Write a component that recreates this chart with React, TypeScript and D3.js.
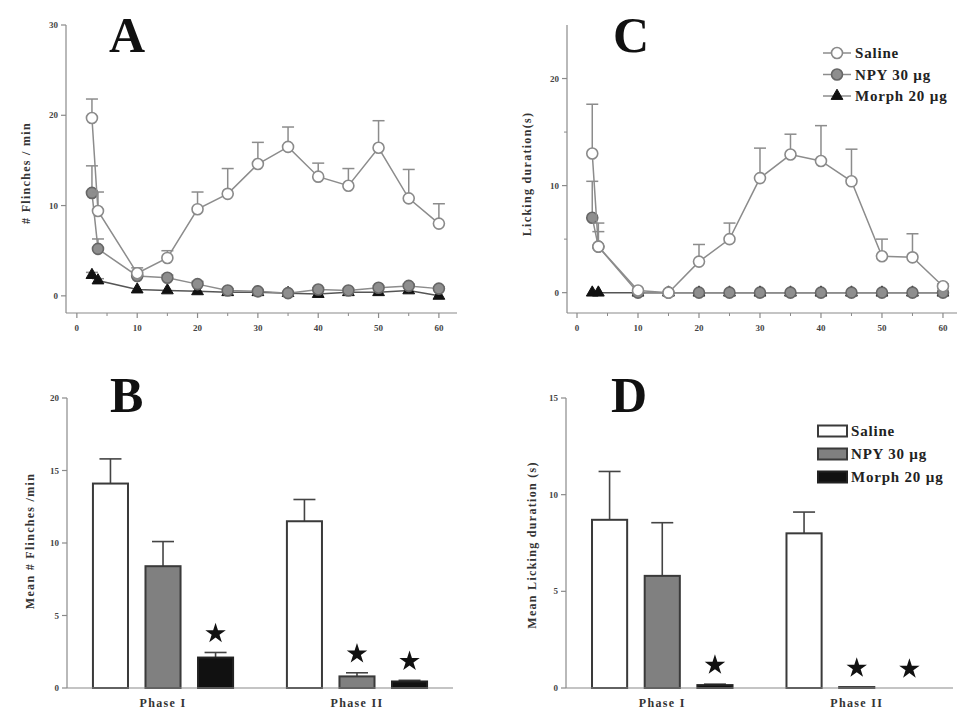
import React from "react";
import * as d3 from "d3";

// ---------- data ----------
const timeMin = [2.5, 3.5, 10, 15, 20, 25, 30, 35, 40, 45, 50, 55, 60];

const flinchSaline = [19.7, 9.4, 2.5, 4.2, 9.6, 11.3, 14.6, 16.5, 13.2, 12.2, 16.4, 10.8, 8.0];
const flinchSalineSem = [2.1, 2.1, 0.6, 0.8, 1.9, 2.8, 2.4, 2.2, 1.5, 1.9, 3.0, 3.2, 2.2];
const flinchNpy = [11.4, 5.2, 2.2, 2.0, 1.3, 0.6, 0.5, 0.3, 0.7, 0.6, 0.9, 1.1, 0.8];
const flinchNpySem = [3.0, 1.1, 0.4, 0.3, 0.3, 0.2, 0.2, 0.1, 0.2, 0.2, 0.2, 0.2, 0.2];
const flinchMorph = [2.3, 1.7, 0.7, 0.6, 0.5, 0.4, 0.4, 0.3, 0.2, 0.4, 0.4, 0.6, 0.0];
const flinchMorphSem = [0.3, 0.2, 0.1, 0.1, 0.1, 0.1, 0.1, 0.1, 0.1, 0.1, 0.1, 0.1, 0.0];

const lickSaline = [13.0, 4.3, 0.2, 0.0, 2.9, 5.0, 10.7, 12.9, 12.3, 10.4, 3.4, 3.3, 0.6];
const lickSalineSem = [4.6, 2.2, 0.1, 0.0, 1.6, 1.5, 2.8, 1.9, 3.3, 3.0, 1.6, 2.2, 0.2];
const lickNpy = [7.0, 4.3, 0, 0, 0, 0, 0, 0, 0, 0, 0, 0, 0];
const lickNpySem = [3.4, 1.4, 0, 0, 0, 0, 0, 0, 0, 0, 0, 0, 0];
const lickMorph = [0, 0, 0, 0, 0, 0, 0, 0, 0, 0, 0, 0, 0];
const lickMorphSem = [0, 0, 0, 0, 0, 0, 0, 0, 0, 0, 0, 0, 0];

const seriesNames = ["Saline", "NPY 30 µg", "Morph 20 µg"];
const phases = ["Phase I", "Phase II"];

// bars: [Phase I, Phase II]
const meanFlinchSaline = [14.1, 11.5];
const meanFlinchSalineSem = [1.7, 1.5];
const meanFlinchNpy = [8.4, 0.8];
const meanFlinchNpySem = [1.7, 0.25];
const meanFlinchMorph = [2.1, 0.45];
const meanFlinchMorphSem = [0.35, 0.08];
const meanFlinchStars = [[false, false, true], [false, true, true]];

const meanLickSaline = [8.7, 8.0];
const meanLickSalineSem = [2.5, 1.1];
const meanLickNpy = [5.8, 0.05];
const meanLickNpySem = [2.75, 0];
const meanLickMorph = [0.15, 0];
const meanLickMorphSem = [0.05, 0];
const meanLickStars = [[false, false, true], [false, true, true]];

const timeTicks = [0, 10, 20, 30, 40, 50, 60];
const timeMinorTicks = [5, 15, 25, 35, 45, 55];
const flinchYTicks = [0, 10, 20, 30];
const lickYTicks = [0, 10, 20];
const lickYMinor = [5, 15];
const meanFlinchYTicks = [0, 5, 10, 15, 20];
const meanLickYTicks = [0, 5, 10, 15];

// ---------- styles ----------
const FONT = "'Liberation Serif', 'DejaVu Serif', serif";
const AXIS = "#8a8a8a";
const TICKTXT = "#444";
const LINE = "#8c8c8c";

const lineStyles = [
  { fill: "#ffffff", stroke: "#8a8a8a", shape: "circle" },
  { fill: "#8e8e8e", stroke: "#666666", shape: "circle" },
  { fill: "#111111", stroke: "#111111", shape: "triangle" },
];
const barStyles = [
  { fill: "#ffffff", stroke: "#3a3a3a" },
  { fill: "#808080", stroke: "#3a3a3a" },
  { fill: "#111111", stroke: "#222222" },
];

const triPath = d3.symbol(d3.symbolTriangle, 60)() as string;
const starPath = d3.symbol(d3.symbolStar, 130)() as string;

function Marker({ x, y, style }: any) {
  if (style.shape === "triangle") {
    return <path d={triPath} transform={`translate(${x},${y})`} fill={style.fill} stroke={style.stroke} strokeWidth={1} />;
  }
  return <circle cx={x} cy={y} r={5.5} fill={style.fill} stroke={style.stroke} strokeWidth={1.6} />;
}

function LinePanel(props: any) {
  const { xr, xd, yr, yd, yTicks, yMinor, series, sems, letter, letterPos, ylabel, ylabelPos, legend } = props;
  const x = d3.scaleLinear().domain(xd).range(xr);
  const y = d3.scaleLinear().domain(yd).range(yr);
  const line = d3.line<number>().x((_, i) => x(timeMin[i])).y((d) => y(d));
  const order = [2, 1, 0];
  return (
    <g>
      <line x1={xr[0]} x2={xr[0]} y1={yr[0]} y2={yr[1]} stroke={AXIS} strokeWidth={1.2} />
      <line x1={xr[0]} x2={xr[1]} y1={yr[0]} y2={yr[0]} stroke={AXIS} strokeWidth={1.2} />
      {yTicks.map((t: number) => (
        <g key={"yt" + t}>
          <line x1={xr[0] - 5} x2={xr[0]} y1={y(t)} y2={y(t)} stroke={AXIS} strokeWidth={1.2} />
          <text x={xr[0] - 8} y={y(t) + 3} textAnchor="end" fontFamily={FONT} fontWeight="bold" fontSize={9} fill={TICKTXT}>{t}</text>
        </g>
      ))}
      {(yMinor || []).map((t: number) => (
        <line key={"ym" + t} x1={xr[0] - 3} x2={xr[0]} y1={y(t)} y2={y(t)} stroke={AXIS} strokeWidth={1} />
      ))}
      {timeTicks.map((t) => (
        <g key={"xt" + t}>
          <line x1={x(t)} x2={x(t)} y1={yr[0]} y2={yr[0] + 5} stroke={AXIS} strokeWidth={1.2} />
          <text x={x(t)} y={yr[0] + 18} textAnchor="middle" fontFamily={FONT} fontWeight="bold" fontSize={9} fill={TICKTXT}>{t}</text>
        </g>
      ))}
      {timeMinorTicks.map((t) => (
        <line key={"xm" + t} x1={x(t)} x2={x(t)} y1={yr[0]} y2={yr[0] + 3} stroke={AXIS} strokeWidth={1} />
      ))}
      {order.map((si) => (
        <g key={"s" + si}>
          <path d={line(series[si]) as string} fill="none" stroke={si === 2 ? "#555" : LINE} strokeWidth={1.5} />
          {series[si].map((v: number, i: number) => {
            const e = sems[si][i];
            if (!e || e < 0.15) return null;
            const cx = x(timeMin[i]);
            return (
              <g key={"e" + i}>
                <line x1={cx} x2={cx} y1={y(v)} y2={y(v + e)} stroke={LINE} strokeWidth={1.5} />
                <line x1={cx - 6} x2={cx + 6} y1={y(v + e)} y2={y(v + e)} stroke={LINE} strokeWidth={1.5} />
              </g>
            );
          })}
          {series[si].map((v: number, i: number) => (
            <Marker key={"m" + i} x={x(timeMin[i])} y={y(v)} style={lineStyles[si]} />
          ))}
        </g>
      ))}
      <text x={letterPos[0]} y={letterPos[1]} fontFamily={FONT} fontWeight="bold" fontSize={50} fill="#111">{letter}</text>
      <text transform={`translate(${ylabelPos[0]},${ylabelPos[1]}) rotate(-90)`} textAnchor="middle" fontFamily={FONT} fontWeight="bold" fontSize={12} letterSpacing={1.3} fill="#333">{ylabel}</text>
      {legend && seriesNames.map((name, i) => {
        const ly = legend[1] + i * 21.5;
        return (
          <g key={"lg" + i}>
            <line x1={legend[0]} x2={legend[0] + 28} y1={ly} y2={ly} stroke={LINE} strokeWidth={1.5} />
            <Marker x={legend[0] + 14} y={ly} style={lineStyles[i]} />
            <text x={legend[0] + 32} y={ly + 5} fontFamily={FONT} fontWeight="bold" fontSize={15} letterSpacing={0.8} fill="#222">{name}</text>
          </g>
        );
      })}
    </g>
  );
}

function BarPanel(props: any) {
  const { xr, yr, yd, yTicks, values, sems, stars, letter, letterPos, ylabel, ylabelPos, legend } = props;
  const xg = d3.scaleBand<string>().domain(phases).range(xr).paddingInner(0.2).paddingOuter(0.095);
  const xs = d3.scaleBand<number>().domain([0, 1, 2]).range([0, xg.bandwidth()]).paddingInner(0.333).paddingOuter(0.143);
  const y = d3.scaleLinear().domain(yd).range(yr);
  return (
    <g>
      <line x1={xr[0]} x2={xr[0]} y1={yr[0]} y2={yr[1]} stroke={AXIS} strokeWidth={1.2} />
      {yTicks.map((t: number) => (
        <g key={"yt" + t}>
          <line x1={xr[0] - 5} x2={xr[0]} y1={y(t)} y2={y(t)} stroke={AXIS} strokeWidth={1.2} />
          <text x={xr[0] - 8} y={y(t) + 3} textAnchor="end" fontFamily={FONT} fontWeight="bold" fontSize={9} fill={TICKTXT}>{t}</text>
        </g>
      ))}
      {phases.map((p, pi) => (
        <g key={p}>
          {[0, 1, 2].map((si) => {
            const v = values[si][pi];
            const e = sems[si][pi];
            const bx = (xg(p) as number) + (xs(si) as number);
            const bw = xs.bandwidth();
            const cx = bx + bw / 2;
            return (
              <g key={"b" + si}>
                {e > 0 && (
                  <g>
                    <line x1={cx} x2={cx} y1={y(v)} y2={y(v + e)} stroke="#444" strokeWidth={1.6} />
                    <line x1={cx - 11} x2={cx + 11} y1={y(v + e)} y2={y(v + e)} stroke="#444" strokeWidth={1.6} />
                  </g>
                )}
                {v > 0 && (
                  <rect x={bx} y={y(v)} width={bw} height={y(0) - y(v)} fill={barStyles[si].fill} stroke={barStyles[si].stroke} strokeWidth={2} />
                )}
                {stars[pi][si] && (
                  <path d={starPath} transform={`translate(${cx},${y(v + e) - 19})`} fill="#111" />
                )}
              </g>
            );
          })}
          <text x={(xg(p) as number) + xg.bandwidth() / 2} y={yr[0] + 19} textAnchor="middle" fontFamily={FONT} fontWeight="bold" fontSize={12} letterSpacing={1.3} fill="#333">{p}</text>
        </g>
      ))}
      <line x1={xr[0]} x2={xr[1]} y1={yr[0]} y2={yr[0]} stroke={AXIS} strokeWidth={1.2} />
      <text x={letterPos[0]} y={letterPos[1]} fontFamily={FONT} fontWeight="bold" fontSize={50} fill="#111">{letter}</text>
      <text transform={`translate(${ylabelPos[0]},${ylabelPos[1]}) rotate(-90)`} textAnchor="middle" fontFamily={FONT} fontWeight="bold" fontSize={12} letterSpacing={1.3} fill="#333">{ylabel}</text>
      {legend && seriesNames.map((name, i) => {
        const ly = legend[1] + i * 23;
        return (
          <g key={"lg" + i}>
            <rect x={legend[0]} y={ly - 5.5} width={29} height={11} fill={barStyles[i].fill} stroke={barStyles[i].stroke} strokeWidth={2} />
            <text x={legend[0] + 33} y={ly + 5} fontFamily={FONT} fontWeight="bold" fontSize={15} letterSpacing={0.8} fill="#222">{name}</text>
          </g>
        );
      })}
    </g>
  );
}

export default function App() {
  return (
    <svg width={978} height={726} style={{ position: "absolute", left: 0, top: 0, background: "#fff" }}>
      <rect x={0} y={0} width={978} height={726} fill="#fff" />
      <LinePanel
        xr={[66, 457]} xd={[-1.8, 63]} yr={[313, 25]} yd={[-1.9, 30]}
        yTicks={flinchYTicks}
        series={[flinchSaline, flinchNpy, flinchMorph]}
        sems={[flinchSalineSem, flinchNpySem, flinchMorphSem]}
        letter="A" letterPos={[109, 52]}
        ylabel="# Flinches / min" ylabelPos={[30, 173]}
      />
      <LinePanel
        xr={[567, 957]} xd={[-1.64, 62.3]} yr={[313, 25]} yd={[-1.9, 25]}
        yTicks={lickYTicks} yMinor={lickYMinor}
        series={[lickSaline, lickNpy, lickMorph]}
        sems={[lickSalineSem, lickNpySem, lickMorphSem]}
        letter="C" letterPos={[613, 52]}
        ylabel="Licking duration(s)" ylabelPos={[531, 174]}
        legend={[823, 53]}
      />
      <BarPanel
        xr={[67, 453]} yr={[688, 398]} yd={[0, 20]} yTicks={meanFlinchYTicks}
        values={[meanFlinchSaline, meanFlinchNpy, meanFlinchMorph]}
        sems={[meanFlinchSalineSem, meanFlinchNpySem, meanFlinchMorphSem]}
        stars={meanFlinchStars}
        letter="B" letterPos={[110, 412]}
        ylabel="Mean # Flinches /min" ylabelPos={[34, 541]}
      />
      <BarPanel
        xr={[566, 953]} yr={[688, 398]} yd={[0, 15]} yTicks={meanLickYTicks}
        values={[meanLickSaline, meanLickNpy, meanLickMorph]}
        sems={[meanLickSalineSem, meanLickNpySem, meanLickMorphSem]}
        stars={meanLickStars}
        letter="D" letterPos={[611, 412]}
        ylabel="Mean Licking duration (s)" ylabelPos={[536, 545]}
        legend={[818, 431]}
      />
    </svg>
  );
}
